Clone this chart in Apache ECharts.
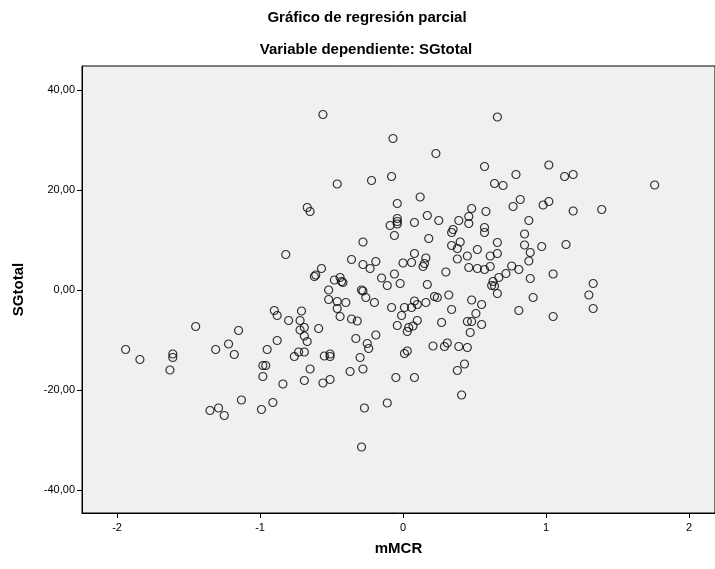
<!DOCTYPE html>
<html>
<head>
<meta charset="utf-8">
<script src="https://cdn.jsdelivr.net/npm/echarts@6/dist/echarts.min.js"></script>
<style>
  html, body { margin: 0; padding: 0; background: #ffffff; }
  #chart { width: 715px; height: 569px; }
</style>
</head>
<body>
<div id="chart"></div>
<script>
// Partial regression: residuals of SGtotal vs residuals of mMCR
const mmcr = [
  -0.56, -0.07, -0.46, -0.22, -0.08, -0.67, -0.65, -0.04, -0.04, -0.04,
  -0.04, -0.09, -0.06, 0.66, 0.23, 0.57, 1.02, 0.79, 0.64, 0.70,
  0.12, 0.82, 0.77, 0.98, 1.02, 0.48, 0.58, 0.17, 0.46, 0.25,
  0.39, 0.08, 0.88, 0.46, 0.57, 1.13, 1.19, 1.76, 1.19, 1.39,
  -1.45, -1.15, -1.22, -1.94, -1.84, -1.61, -1.61, -1.63, -1.31, -1.18,
  -1.13, -1.35, -1.29, -1.25, -0.95, -0.73, -0.69, -0.76, -0.98, -0.96,
  -0.98, -0.84, -0.65, -0.69, -0.55, -0.51, -0.51, -0.56, -0.51, -0.24,
  -0.30, -0.37, -0.28, 0.01, 0.03, -0.05, 0.08, -0.91, -0.99, -0.11,
  -0.27, -0.29, 0.21, 0.29, 0.31, 0.39, 0.45, 0.43, 0.38, 0.41,
  1.14, 1.33, 1.30, 1.33, 1.05, 1.05, -0.28, -0.82, -0.36, -0.28,
  -0.23, -0.19, 0.00, 0.06, -0.57, -0.61, -0.62, -0.48, -0.44, -0.43,
  -0.42, -0.15, -0.11, -0.06, -0.02, -0.52, -0.29, -0.28, -0.26, -0.20,
  -0.52, -0.46, -0.40, -0.46, -0.44, -0.36, -0.32, -0.08, 0.01, 0.06,
  -0.01, -0.04, 0.04, 0.03, -0.90, -0.88, -0.80, -0.71, -0.72, -0.69,
  -0.72, -0.69, -0.67, -0.88, -0.59, -0.33, -0.19, -0.25, 0.57, 0.35,
  0.34, 0.85, 0.18, 0.40, 0.66, 0.34, 0.38, 0.52, 0.85, 0.97,
  0.89, 0.66, 0.61, 0.45, 0.38, 0.88, 0.08, 0.16, 0.15, 0.14,
  0.46, 0.52, 0.57, 0.61, 0.76, 0.81, 0.30, 0.72, 0.67, 0.63,
  0.62, 0.64, 0.66, 0.89, 0.17, 0.32, 0.22, 0.24, 0.48, 0.55,
  0.91, 0.08, 0.10, 0.16, 0.34, 0.51, 0.81, 0.10, 0.07, 0.27,
  0.45, 0.48, 0.55, 0.47
];
const sgtotal = [
  35.1, 30.3, 21.2, 21.9, 22.7, 16.5, 15.7, 17.3, 14.3, 13.7,
  13.2, 12.9, 10.9, 34.6, 27.3, 24.7, 25.0, 23.1, 21.3, 20.9,
  18.6, 18.1, 16.7, 17.0, 17.7, 16.3, 15.7, 14.9, 14.7, 13.9,
  13.9, 13.5, 13.9, 13.3, 12.5, 22.7, 23.1, 21.0, 15.8, 16.1,
  -7.3, -8.1, -10.8, -11.9, -13.9, -12.8, -13.5, -16.0, -11.9, -12.9,
  -22.0, -24.1, -23.6, -25.1, -11.9, -12.4, -12.4, -13.3, -15.1, -15.1,
  -17.3, -18.8, -15.8, -18.1, -13.2, -12.8, -13.3, -18.6, -17.9, -11.7,
  -13.5, -16.3, -15.8, -12.7, -12.2, -17.5, -17.5, -22.5, -23.9, -22.6,
  -23.6, -31.4, -11.2, -11.3, -10.6, -11.3, -11.5, -14.8, -16.1, -21.0,
  9.1, 1.3, -1.0, -3.7, 3.2, -5.3, 9.6, 7.1, 6.1, 5.1,
  4.3, 5.7, 5.4, 5.5, 4.3, 3.0, 2.7, 2.0, 2.5, 1.7,
  1.5, 2.4, 0.9, 3.2, 1.3, 0.0, 0.0, -0.2, -1.5, -2.5,
  -1.9, -2.3, -2.5, -3.7, -5.3, -5.8, -6.2, -3.5, -3.5, -3.5,
  -5.1, -7.1, -7.5, -8.3, -4.1, -5.1, -6.1, -4.2, -6.1, -7.5,
  -8.0, -9.2, -10.3, -10.1, -7.7, -9.7, -9.0, -10.7, 11.5, 12.1,
  11.5, 11.2, 10.3, 9.6, 9.5, 8.9, 8.3, 8.1, 9.0, 8.7,
  7.5, 7.3, 6.8, 6.8, 6.2, 5.8, 7.3, 6.4, 5.3, 4.7,
  4.5, 4.3, 4.1, 4.7, 4.8, 4.1, 3.6, 3.3, 2.5, 1.7,
  0.9, 0.8, -0.7, 2.3, 1.1, -1.0, -1.3, -1.5, -2.0, -2.9,
  -1.5, -2.2, -2.9, -2.5, -3.9, -4.7, -4.1, -6.1, -7.2, -6.5,
  -6.3, -6.3, -6.9, -8.5
];
const xTicks = [-2, -1, 0, 1, 2];
const yTicks = [-40, -20, 0, 20, 40];

const points = mmcr.map((x, i) => [x, sgtotal[i]]);
const FONT = '"Liberation Sans", Arial, sans-serif';

const chart = echarts.init(document.getElementById('chart'), null, { renderer: 'canvas' });
chart.setOption({
  backgroundColor: '#ffffff',
  animation: false,
  graphic: [
    {
      type: 'text', x: 367, y: 18,
      style: {
        text: 'Gráfico de regresión parcial',
        font: 'bold 15px ' + FONT, fill: '#000',
        textAlign: 'center', textVerticalAlign: 'middle'
      }
    },
    {
      type: 'text', x: 366, y: 50,
      style: {
        text: 'Variable dependiente: SGtotal',
        font: 'bold 15px ' + FONT, fill: '#000',
        textAlign: 'center', textVerticalAlign: 'middle'
      }
    }
  ],
  grid: {
    left: 82, top: 66, right: 0, bottom: 56,
    show: true, backgroundColor: '#f0f0f0',
    borderColor: '#000', borderWidth: 1
  },
  xAxis: {
    type: 'value', min: -2.245, max: 2.182,
    name: 'mMCR', nameLocation: 'middle', nameGap: 28,
    nameTextStyle: { fontFamily: FONT, fontWeight: 'bold', fontSize: 15, color: '#000' },
    axisLine: { show: true, onZero: false, lineStyle: { color: '#000', width: 1 } },
    axisTick: { show: true, length: 5, customValues: xTicks, lineStyle: { color: '#000' } },
    axisLabel: { customValues: xTicks, margin: 9, fontFamily: FONT, fontSize: 11, color: '#000' },
    splitLine: { show: false }
  },
  yAxis: {
    type: 'value', min: -44.6, max: 44.8,
    name: 'SGtotal', nameLocation: 'middle', nameGap: 56,
    nameTextStyle: { fontFamily: FONT, fontWeight: 'bold', fontSize: 15, color: '#000' },
    axisLine: { show: true, onZero: false, lineStyle: { color: '#000', width: 1 } },
    axisTick: { show: true, length: 5, customValues: yTicks, lineStyle: { color: '#000' } },
    axisLabel: {
      customValues: yTicks, margin: 7, fontFamily: FONT, fontSize: 11, color: '#000',
      formatter: v => v.toFixed(2).replace('.', ',')
    },
    splitLine: { show: false }
  },
  series: [{
    type: 'scatter',
    data: points,
    symbol: 'circle',
    symbolSize: 8,
    itemStyle: { color: 'rgba(0,0,0,0)', borderColor: '#000', borderWidth: 1.2 },
    emphasis: { disabled: true }
  }]
});
</script>
</body>
</html>
